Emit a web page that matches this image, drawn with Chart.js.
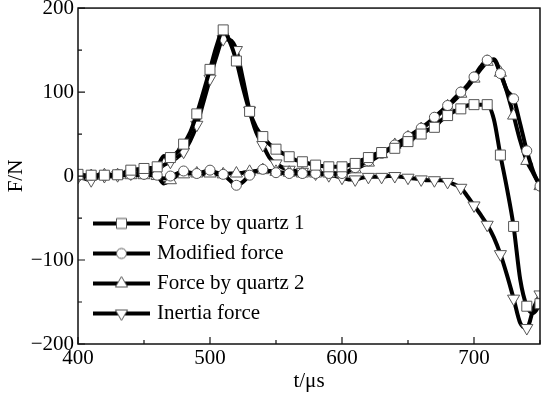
<!DOCTYPE html>
<html>
<head>
<meta charset="utf-8">
<script src="https://cdn.jsdelivr.net/npm/chart.js@4/dist/chart.umd.min.js"></script>
<style>
html,body{margin:0;padding:0;background:#fff;}
#wrap{width:555px;height:399px;position:relative;}
</style>
</head>
<body>
<div id="wrap"><canvas id="c" width="555" height="399"></canvas></div>
<script>
// ---- data (time in microseconds, force in N) ----
const times = [400,405,410,415,420,425,430,435,440,445,450,455,460,465,470,475,480,485,490,495,500,505,510,515,520,525,530,535,540,545,550,555,560,565,570,575,580,585,590,595,600,605,610,615,620,625,630,635,640,645,650,655,660,665,670,675,680,685,690,695,700,705,710,715,720,725,730,735,740,745,750];
const quartz1 = [2,1,1,1,1,1,1.5,4,7,8,9,9.5,11,24,22,28,38,52,74,100,127,155,174,160,137,105,77,58,47,38,32,27,23,19,17,15,13,12,11,11,11,13,15,19,22,26,28,31,33,37,41,46,50,55,58,66,72,77,80,84,85,85,85,68,25,-15,-60,-123,-155,-163,-152];
const modified = [0,0,1,1,1,1,2,2,2,2,2,2,1,-3,0,3,6,4,3,5,7,4,2,-5,-11,-7,1,6,8,6,4,4,3,3,3,3,3,3,3,3,3,6,10,14,18,22,27,32,37,42,47,52,57,63,70,77,84,92,100,108,118,130,138,138,122,102,92,62,30,5,-12];
const quartz2 = [0,0,0,0,1,1,1,1,1,1,1,1,0,-9,-5,0,2,3,3,2,3,2,2,3,3,4,5,6,7,6,5,4,4,3,3,3,3,3,3,3,3,5,8,12,16,21,26,31,37,41,46,51,56,62,68,76,83,90,98,106,116,127,136,139,123,100,72,42,18,3,-12];
const inertia = [-1,-3,-5,-2,0,0,1,2,3,4,4,5,7,13,17,22,29,42,61,88,116,143,163,162,150,115,78,52,37,22,15,10,7.5,6,5,4,3,2,1,0,-2,-4,-4,-2,-1,-1,-1,0,0,-1,-2,-3,-4,-5,-5,-5,-7,-10,-14,-24,-35,-46,-58,-73,-93,-118,-146,-175,-181,-158,-141];
const seriesNames = ['Force by quartz 1','Modified force','Force by quartz 2','Inertia force'];
const xTicks = [400,500,600,700];
const yTicks = [-200,-100,0,100,200];

const FONT = "'Liberation Serif','Times New Roman',serif";
const MARK_STROKE = '#555';

function drawMarker(ctx, style, x, y) {
  ctx.save();
  ctx.fillStyle = '#fff';
  ctx.strokeStyle = MARK_STROKE;
  ctx.lineWidth = 1;
  ctx.beginPath();
  if (style === 'rect') {
    ctx.rect(x - 5, y - 5, 10, 10);
  } else if (style === 'circle') {
    ctx.arc(x, y, 5, 0, Math.PI * 2);
  } else if (style === 'tri') {
    ctx.moveTo(x, y - 7); ctx.lineTo(x + 6.1, y + 3.5); ctx.lineTo(x - 6.1, y + 3.5); ctx.closePath();
  } else {
    ctx.moveTo(x, y + 7); ctx.lineTo(x + 6.1, y - 3.5); ctx.lineTo(x - 6.1, y - 3.5); ctx.closePath();
  }
  ctx.fill(); ctx.stroke();
  ctx.restore();
}
function makeIcon(style) {
  const cv = document.createElement('canvas');
  cv.width = 57; cv.height = 16;
  const ctx = cv.getContext('2d');
  ctx.strokeStyle = '#000'; ctx.lineWidth = 4;
  ctx.beginPath(); ctx.moveTo(0, 8); ctx.lineTo(57, 8); ctx.stroke();
  drawMarker(ctx, style, 28.5, 8);
  return cv;
}
const iconStyles = ['rect','circle','tri','dtri'];
const icons = iconStyles.map(makeIcon);

const ptRadius = (r) => (c) => (c.index % 2 === 0 ? r : 0);
function ds(label, values, pointStyle, radius, rotation) {
  return {
    label: label,
    data: values.map((v, i) => ({x: times[i], y: v})),
    borderColor: '#000',
    borderWidth: 4,
    backgroundColor: '#fff',
    pointBackgroundColor: '#fff',
    pointBorderColor: MARK_STROKE,
    pointBorderWidth: 1,
    pointStyle: pointStyle,
    rotation: rotation || 0,
    pointRadius: ptRadius(radius),
    pointHoverRadius: ptRadius(radius),
    cubicInterpolationMode: 'monotone',
    fill: false,
    clip: 0
  };
}

const frameTicks = {
  id: 'frameTicks',
  afterLayout(chart) {
    const lg = chart.legend;
    if (lg) { lg.left = 87.5; lg.top = 204; lg.right = 400; lg.bottom = 400; }
  },
  afterDraw(chart) {
    const {ctx, chartArea: a, scales: {x, y}} = chart;
    ctx.save();
    ctx.strokeStyle = '#111';
    ctx.lineWidth = 1.5;
    ctx.strokeRect(a.left, a.top, a.right - a.left, a.bottom - a.top);
    ctx.lineWidth = 1.2;
    ctx.beginPath();
    x.ticks.forEach(t => {
      const px = x.getPixelForValue(t.value);
      const len = (t.value % 100 === 0) ? 7 : 4;
      ctx.moveTo(px, a.bottom); ctx.lineTo(px, a.bottom - len);
    });
    y.ticks.forEach(t => {
      const py = y.getPixelForValue(t.value);
      const len = (t.value % 100 === 0) ? 7 : 4;
      ctx.moveTo(a.left, py); ctx.lineTo(a.left + len, py);
    });
    ctx.stroke();
    ctx.restore();
  }
};

new Chart(document.getElementById('c'), {
  type: 'line',
  data: {
    datasets: [
      ds(seriesNames[0], quartz1, 'rect', 7.07, 0),
      ds(seriesNames[1], modified, 'circle', 5, 0),
      ds(seriesNames[2], quartz2, 'triangle', 7, 0),
      ds(seriesNames[3], inertia, 'triangle', 7, 180)
    ]
  },
  options: {
    responsive: false,
    animation: false,
    events: [],
    layout: {padding: {left: 0, right: 15, top: 8, bottom: 0}},
    scales: {
      x: {
        type: 'linear', min: 400, max: 750,
        ticks: {
          stepSize: 50, padding: 2, color: '#000', maxRotation: 0, autoSkip: false,
          font: {family: FONT, size: 21},
          callback: (v) => xTicks.includes(v) ? String(v) : ''
        },
        grid: {display: false, drawTicks: false},
        border: {display: false},
        title: {display: true, text: 't/μs', color: '#000', font: {family: FONT, size: 21}, padding: {top: 0, bottom: 5}},
        afterFit: (s) => { s.height = 55; s.paddingLeft = 0; s.paddingRight = 0; }
      },
      y: {
        type: 'linear', min: -200, max: 200,
        ticks: {
          stepSize: 50, padding: 4, color: '#000', autoSkip: false,
          font: {family: FONT, size: 21},
          callback: (v) => yTicks.includes(v) ? String(v).replace('-', '\u2212') : ''
        },
        grid: {display: false, drawTicks: false},
        border: {display: false},
        title: {display: true, text: 'F/N', color: '#000', font: {family: FONT, size: 21}, padding: {top: 4, bottom: 0}},
        afterFit: (s) => { s.width = 78; s.paddingTop = 0; s.paddingBottom = 0; }
      }
    },
    plugins: {
      tooltip: {enabled: false},
      legend: {
        position: 'chartArea',
        align: 'start',
        labels: {
          usePointStyle: true,
          pointStyleWidth: 50,
          padding: 9,
          color: '#000',
          font: {family: FONT, size: 21},
          generateLabels: (chart) => {
            const items = Chart.defaults.plugins.legend.labels.generateLabels(chart);
            items.forEach((it, i) => { it.pointStyle = icons[i]; it.rotation = 0; });
            return items;
          }
        }
      }
    }
  },
  plugins: [frameTicks]
});
</script>
</body>
</html>
